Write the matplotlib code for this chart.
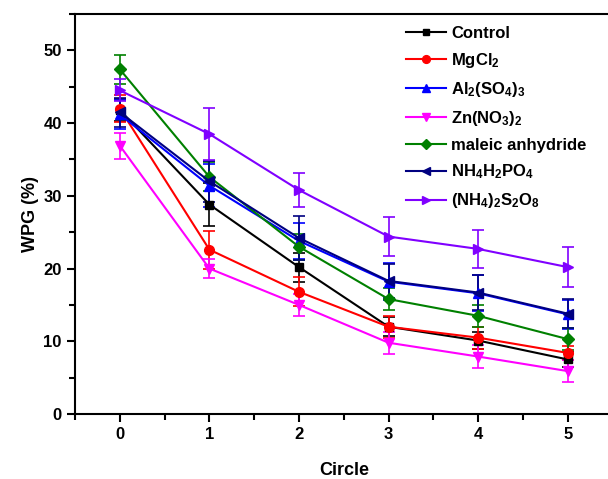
import matplotlib
matplotlib.use('Agg')
import matplotlib.pyplot as plt
from matplotlib.ticker import MultipleLocator

plt.rcParams['font.family'] = ['Liberation Sans', 'DejaVu Sans']
plt.rcParams['font.weight'] = 'bold'
plt.rcParams['mathtext.fontset'] = 'custom'
plt.rcParams['mathtext.rm'] = 'Liberation Sans:bold'
plt.rcParams['mathtext.bf'] = 'Liberation Sans:bold'
plt.rcParams['mathtext.default'] = 'bf'

circle = [0, 1, 2, 3, 4, 5]

labels = ['Control', 'MgCl$_2$', 'Al$_2$(SO$_4$)$_3$', 'Zn(NO$_3$)$_2$',
          'maleic anhydride', 'NH$_4$H$_2$PO$_4$', '(NH$_4$)$_2$S$_2$O$_8$']

control = [41.8, 28.8, 20.2, 12.0, 10.1, 7.5]
mgcl2 = [42.0, 22.6, 16.8, 12.0, 10.5, 8.4]
al2so43 = [41.2, 31.4, 23.8, 18.2, 16.6, 13.7]
znno32 = [36.9, 20.0, 15.0, 9.8, 7.9, 5.9]
maleic = [47.4, 32.6, 23.0, 15.8, 13.5, 10.3]
nh4h2po4 = [41.5, 32.0, 24.2, 18.3, 16.7, 13.8]
nh4s2o8 = [44.5, 38.5, 30.8, 24.4, 22.7, 20.2]

control_err = [1.5, 3.0, 2.0, 1.3, 1.2, 1.0]
mgcl2_err = [1.8, 2.6, 2.0, 1.5, 1.5, 1.0]
al2so43_err = [2.0, 3.0, 2.5, 2.5, 2.5, 2.0]
znno32_err = [1.8, 1.3, 1.5, 1.5, 1.6, 1.5]
maleic_err = [2.0, 2.0, 1.8, 1.5, 1.5, 1.5]
nh4h2po4_err = [2.0, 2.8, 3.0, 2.3, 2.4, 2.0]
nh4s2o8_err = [1.5, 3.6, 2.3, 2.7, 2.6, 2.8]

series = [control, mgcl2, al2so43, znno32, maleic, nh4h2po4, nh4s2o8]
errors = [control_err, mgcl2_err, al2so43_err, znno32_err, maleic_err,
          nh4h2po4_err, nh4s2o8_err]
colors = ['black', '#ff0000', '#0000ff', '#ff00ff', '#008000', '#000080', '#8000ff']
markers = ['s', 'o', '^', 'v', 'D', '<', '>']
msizes = [6, 7, 7, 7, 6, 7, 7]

fig = plt.figure(figsize=(6.08, 4.79), dpi=100)
ax = fig.add_axes([0.1234, 0.1357, 0.884, 0.835])

handles = []
for y, e, c, m, ms, lab in zip(series, errors, colors, markers, msizes, labels):
    cont = ax.errorbar(circle, y, yerr=e, color=c, marker=m, markersize=ms,
                       linewidth=1.5, capsize=4, elinewidth=1.2, capthick=1.2,
                       label=lab)
    handles.append(cont[0])

ax.set_xlim(-0.5, 5.5)
ax.set_ylim(0, 55)
ax.xaxis.set_major_locator(MultipleLocator(1))
ax.xaxis.set_minor_locator(MultipleLocator(0.5))
ax.yaxis.set_major_locator(MultipleLocator(10))
ax.yaxis.set_minor_locator(MultipleLocator(5))
ax.tick_params(which='both', direction='out', width=1.5, labelsize=12)
ax.tick_params(which='major', length=6)
ax.tick_params(which='minor', length=4)
for s in ax.spines.values():
    s.set_linewidth(1.5)

ax.set_xlabel('Circle', fontsize=13, fontweight='bold', labelpad=14)
ax.set_ylabel('WPG (%)', fontsize=13, fontweight='bold', labelpad=3)

ax.legend(handles, labels, loc='upper left', bbox_to_anchor=(0.594, 1.0),
          frameon=False, fontsize=12, handlelength=2.4, handletextpad=0.3,
          labelspacing=0.6, borderaxespad=0.3, markerscale=0.8)

fig.savefig('out.png', dpi=100)
